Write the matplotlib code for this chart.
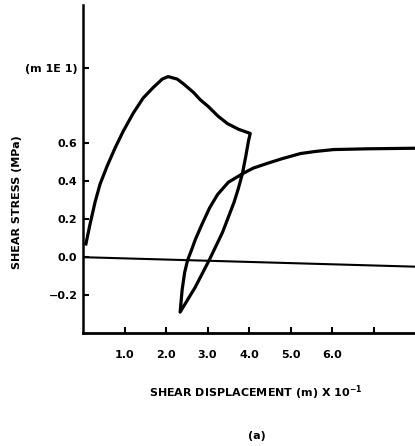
import matplotlib.pyplot as plt

# --- data ---
# shear stress path: loading, drop at ~4.0, unload to tip, reload to residual
disp = [0.07, 0.17, 0.29, 0.41, 0.58, 0.77, 0.97, 1.21, 1.45, 1.69, 1.91, 2.05, 2.27,
        2.42, 2.66, 2.83, 3.02, 3.25, 3.48, 3.75, 4.03,
        3.99, 3.92, 3.84, 3.74, 3.64, 3.36, 3.04, 2.70, 2.34,
        2.39, 2.45, 2.52, 2.61, 2.71, 2.87, 3.05, 3.24, 3.50, 3.84, 4.10, 4.44,
        4.80, 5.24, 5.60, 6.04, 6.86, 8.00]
stress = [0.07, 0.175, 0.29, 0.385, 0.48, 0.575, 0.665, 0.76, 0.84, 0.895, 0.94, 0.953, 0.94,
          0.915, 0.87, 0.83, 0.795, 0.745, 0.705, 0.675, 0.653,
          0.616, 0.53, 0.44, 0.36, 0.29, 0.13, -0.016, -0.16, -0.29,
          -0.17, -0.08, -0.016, 0.035, 0.095, 0.175, 0.26, 0.33, 0.395, 0.44, 0.47, 0.495,
          0.52, 0.547, 0.558, 0.568, 0.572, 0.575]

# reference line near zero
base_x = [0.0, 8.0]
base_y = [0.0, -0.05]

xticks = [1, 2, 3, 4, 5, 6, 7]
xlabels = ["1.0", "2.0", "3.0", "4.0", "5.0", "6.0", ""]
yticks = [-0.2, 0.0, 0.2, 0.4, 0.6, 1.0]
ylabels = ["\u22120.2", "0.0", "0.2", "0.4", "0.6", "(m 1E 1)"]

plt.rcParams["font.family"] = "DejaVu Sans"
plt.rcParams["font.weight"] = "bold"

fig = plt.figure(figsize=(4.15, 4.46), dpi=100)
ax = fig.add_axes([0.2, 0.2534, 0.8, 0.735])

ax.plot(disp, stress, color="black", linewidth=2.3, solid_joinstyle="round")
ax.plot(base_x, base_y, color="black", linewidth=1.5)

ax.set_xlim(0, 8.0)
ax.set_ylim(-0.4, 1.33)

ax.spines["top"].set_visible(False)
ax.spines["right"].set_visible(False)
ax.spines["left"].set_linewidth(1.8)
ax.spines["bottom"].set_linewidth(2.0)

ax.set_xticks(xticks)
ax.set_xticklabels(xlabels, fontsize=8, fontweight="bold")
ax.set_yticks(yticks)
ax.set_yticklabels(ylabels, fontsize=8, fontweight="bold")
ax.tick_params(axis="both", direction="in", length=4, width=1.5)
ax.tick_params(axis="x", pad=12)
ax.tick_params(axis="y", pad=4)

ax.set_ylabel("SHEAR STRESS (MPa)", fontsize=8, fontweight="bold")
ax.yaxis.set_label_coords(-0.185, 0.4)
ax.set_xlabel("SHEAR DISPLACEMENT (m) X 10$^{-1}$", fontsize=8, fontweight="bold")
ax.xaxis.set_label_coords(0.52, -0.155)
fig.text(0.62, 0.015, "(a)", fontsize=8, fontweight="bold", ha="center")

fig.savefig("out.png", dpi=100)
